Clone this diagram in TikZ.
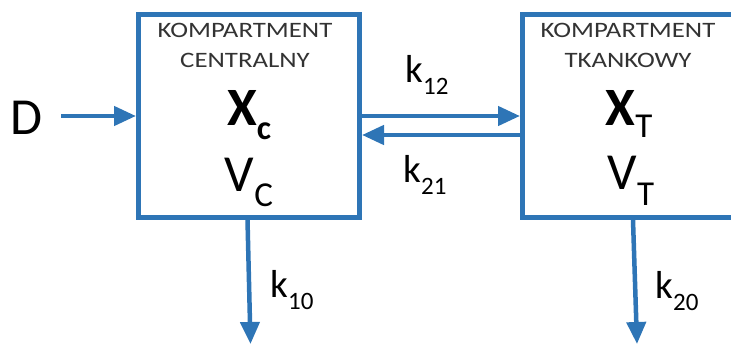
\documentclass[tikz,border=0pt]{standalone}
\usepackage{fontspec}
\setmainfont{Carlito}
\usepackage{xcolor}
\usetikzlibrary{arrows.meta,positioning}

\definecolor{kblue}{HTML}{2E75B6}
\newcommand{\fs}[1]{\fontsize{#1}{#1}\selectfont}
\newcommand{\lowsub}[3]{\raisebox{-#1pt}{\fs{#2}#3}}
\newcommand{\wide}[1]{\scalebox{1.22}[1]{#1}}

\tikzset{
    comp/.style={draw=kblue, line width=5pt, minimum width=221pt, minimum height=203pt, inner sep=0pt},
    flow/.style={draw=kblue, line width=4.5pt, -{Triangle[length=22pt,width=19pt]}},
    title/.style={font=\fs{22}, text=black!80, inner sep=0pt, anchor=base},
    big/.style={font=\fs{52}, inner sep=0pt, anchor=base},
    rate/.style={font=\fs{39}, inner sep=0pt, anchor=base}
}

\begin{document}
\begin{tikzpicture}[x=1pt,y=-1pt]
    \useasboundingbox (0,0) rectangle (731,345);
    \clip (0,0) rectangle (731,345);
    \node[comp] (cent) at (249,116) {};
    \node[comp] (tank) at (633,116) {};
    % texts in the boxes
    \node[title] (c1) at (245,38) {\wide{KOMPARTMENT}};
    \node[title] (c2) at (245,67) {\wide{CENTRALNY}};
    \node[title] (t1) at (628,38) {\wide{KOMPARTMENT}};
    \node[title] (t2) at (628,67) {\wide{TKANKOWY}};
    \node[big] (xc) at (249,125) {\textbf{\fs{54}X\lowsub{14}{34}{c}}};
    \node[big] (vc) at (249,191) {V\lowsub{15}{35}{C}};
    \node[big] (xt) at (629,125) {\textbf{\fs{54}X}\lowsub{12}{35}{T}};
    \node[big] (vt) at (631,189) {V\lowsub{16}{35}{T}};
    % dose and flows
    \node[big] (D) at (26,134) {D};
    \coordinate (dstart) at (61,116);
    \coordinate (out1) at (250.5,344);
    \coordinate (out2) at (637,344);
    \draw[flow] (dstart) -- (cent.west);
    \draw[flow] (cent.east) -- (tank.west);
    \draw[flow] ([yshift=-19pt]tank.west) -- ([yshift=-19pt]cent.east);
    \draw[flow] ([xshift=-1.5pt]cent.south) -- (out1);
    \draw[flow] (tank.south) -- (out2);
    \node[rate] (k12) at (427,83) {k\lowsub{12}{25}{12}};
    \node[rate] (k21) at (425,182) {k\lowsub{12}{25}{21}};
    \node[rate] (k10) at (292,297) {k\lowsub{12}{25}{10}};
    \node[rate] (k20) at (677,298) {k\lowsub{12}{25}{20}};
\end{tikzpicture}
\end{document}
